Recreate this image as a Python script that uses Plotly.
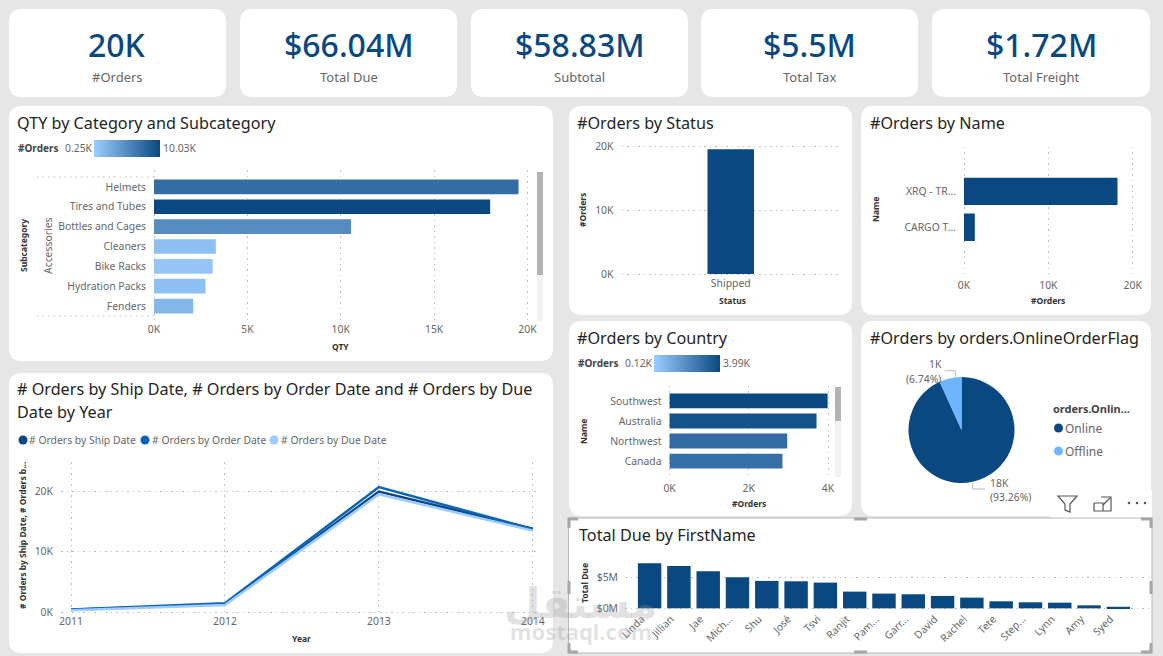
import plotly.graph_objects as go

W, H = 1163, 656
FONT = "Noto Sans"
NAVY = "#0A4881"
MID = "#0D63B5"
LIGHT = "#9CCBFF"
SKY = "#6DB6FF"
GRID = "#BDBDBD"
DOTS = "1.5px,4px"
TICK = "#666666"
TITLE = "#252423"
SCALE = [[0, "#9DCDFF"], [1, NAVY]]
TICK_SIZE = 10.4

# KPI cards
kpi_values = ["20K", "$66.04M", "$58.83M", "$5.5M", "$1.72M"]
kpi_names = ["#Orders", "Total Due", "Subtotal", "Total Tax", "Total Freight"]

# Quantity by subcategory
subcategories = ["Helmets", "Tires and Tubes", "Bottles and Cages", "Cleaners",
                 "Bike Racks", "Hydration Packs", "Fenders"]
subcategory_qty = [19520, 18000, 10550, 3310, 3140, 2760, 2100]
subcategory_orders = [7.3, 10.03, 5.1, 1.3, 0.85, 1.18, 1.9]

# Yearly orders by date role
years = [2011, 2012, 2013, 2014]
orders_ship = [420, 1350, 19950, 13800]
orders_order = [480, 1480, 20700, 13750]
orders_due = [330, 1200, 19500, 13500]

# Orders by status
statuses = ["Shipped"]
status_orders = [19600]

# Orders by shipping method
ship_names = ["XRQ - TR...", "CARGO T..."]
ship_orders = [18200, 1280]

# Orders by territory
countries = ["Southwest", "Australia", "Northwest", "Canada"]
country_orders = [3990, 3710, 2970, 2850]

# Online flag share
flag_names = ["Online", "Offline"]
flag_share = [93.26, 6.74]

# Total due by first name, in millions
first_names = ["Linda", "Jillian", "Jae", "Mich...", "Shu", "José", "Tsvi", "Ranjit",
               "Pam...", "Garr...", "David", "Rachel", "Tete", "Step...", "Lynn", "Amy", "Syed"]
first_name_due = [7.26, 6.83, 5.97, 5.0, 4.41, 4.35, 4.14, 2.69, 2.37, 2.26, 1.99, 1.72,
                  1.13, 0.97, 0.91, 0.48, 0.25]


def fx(x):
    return x / W


def fy(y):
    return 1 - y / H


shapes = []
annotations = []


def card(x0, y0, x1, y1, r=13, fill="white"):
    a, b, c, d = fx(x0), fy(y0), fx(x1), fy(y1)
    rx, ry = r / W, r / H
    path = (f"M {a+rx} {b} L {c-rx} {b} Q {c} {b} {c} {b-ry} L {c} {d+ry} Q {c} {d} {c-rx} {d} "
            f"L {a+rx} {d} Q {a} {d} {a} {d+ry} L {a} {b-ry} Q {a} {b} {a+rx} {b} Z")
    shapes.append(dict(type="path", xref="paper", yref="paper", path=path, fillcolor=fill,
                       line=dict(width=0), layer="below"))


def rect(x0, y0, x1, y1, fill=None, line=None, width=0, layer="below"):
    shapes.append(dict(type="rect", xref="paper", yref="paper", x0=fx(x0), x1=fx(x1),
                       y0=fy(y0), y1=fy(y1), fillcolor=fill or "rgba(0,0,0,0)",
                       line=dict(color=line or "rgba(0,0,0,0)", width=width), layer=layer))


def polyline(points, color, width=1, dash=None, closed=False):
    d = "M " + " L ".join(f"{fx(x)} {fy(y)}" for x, y in points) + (" Z" if closed else "")
    line = dict(color=color, width=width)
    if dash:
        line["dash"] = dash
    shapes.append(dict(type="path", xref="paper", yref="paper", path=d, line=line, layer="above"))


def dot(x, y, r, color):
    shapes.append(dict(type="circle", xref="paper", yref="paper", x0=fx(x - r), x1=fx(x + r),
                       y0=fy(y + r), y1=fy(y - r), fillcolor=color, line=dict(width=0), layer="above"))


def text(x, y, s, size=TICK_SIZE, color=TICK, anchor="left", weight=None, angle=0, family=FONT):
    font = dict(size=size, color=color, family=family)
    if weight:
        font["weight"] = weight
    annotations.append(dict(x=fx(x), y=fy(y), xref="paper", yref="paper", text=s, showarrow=False,
                            xanchor=anchor, yanchor="middle", font=font, textangle=angle,
                            borderpad=0, borderwidth=0))


def title(x, y, s):
    text(x, y, s, size=16.2, color=TITLE)


def axis_title(x, y, s, angle=0):
    text(x, y, s, size=8.5, color="#333333", anchor="center", weight=700, angle=angle)


def axis(x_or_y0, x_or_y1, size, **kw):
    base = dict(domain=[x_or_y0 / size, x_or_y1 / size], showline=False, zeroline=False, ticks="",
                tickfont=dict(size=TICK_SIZE, color=TICK, family=FONT), automargin=False,
                gridcolor=GRID, griddash=DOTS, gridwidth=1)
    base.update(kw)
    return base


def xdom(x0, x1, **kw):
    return axis(x0, x1, W, **kw)


def ydom(top, bottom, **kw):
    return axis(H - bottom, H - top, H, **kw)


def colorbar(x0, y0, length, thick):
    return dict(orientation="h", x=fx(x0), xanchor="left", y=fy(y0), yanchor="top",
                len=length, lenmode="pixels", thickness=thick, thicknessmode="pixels",
                outlinewidth=0, showticklabels=False, ticks="", xpad=0, ypad=0)


fig = go.Figure()

# Card backgrounds
kpi_boxes = [(9, 226), (240, 457), (471, 688), (701, 918), (932, 1150)]
for (x0, x1), value, name in zip(kpi_boxes, kpi_values, kpi_names):
    card(x0, 9, x1, 97)
    centre = (x0 + x1) / 2
    text(centre, 44, value, size=32, color=NAVY, anchor="center", weight=500)
    text(centre, 77, name, size=13, anchor="center")
card(9, 106, 553, 361)
card(9, 373, 553, 653)
card(569, 106, 852, 315)
card(861, 106, 1151, 315)
card(569, 321, 852, 516)
card(861, 321, 1151, 516)
rect(1050, 490, 1152, 518, fill="white")
rect(568.5, 518, 1152, 653, fill="white")

# Quantity by subcategory
fig.add_bar(x=subcategory_qty, y=subcategories, orientation="h", xaxis="x", yaxis="y",
            width=0.74,
            marker=dict(color=subcategory_orders, colorscale=SCALE, cmin=0.25, cmax=10.03,
                        line=dict(width=0), showscale=True, colorbar=colorbar(94, 140, 66, 17)))
title(17, 123, "QTY by Category and Subcategory")
text(18, 148, "#Orders", size=10, color="#444444", weight=700)
text(65, 148, "0.25K")
text(163, 148, "10.03K")
axis_title(23, 246, "Subcategory", -90)
text(48, 246, "Accessories", size=10.4, anchor="center", angle=-90)
axis_title(340, 346, "QTY")
polyline([(37, 177), (154, 177)], GRID, dash=DOTS)
polyline([(37, 316), (154, 316)], GRID, dash=DOTS)
rect(537, 172, 543, 321, fill="#F1F1F1", layer="above")
rect(537, 172, 543, 275, fill="#B3B3B3", layer="above")

# Yearly orders
for series, colour, name in ((orders_ship, NAVY, "Ship"), (orders_order, MID, "Order"), (orders_due, LIGHT, "Due")):
    fig.add_scatter(x=years, y=series, mode="lines", name=name, xaxis="x2", yaxis="y2",
                    line=dict(color=colour, width=2.5))
title(17, 389, "# Orders by Ship Date, # Orders by Order Date and # Orders by Due")
title(17, 412, "Date by Year")
for cx, tx, colour, label in ((23, 29, NAVY, "# Orders by Ship Date"),
                              (145, 152, MID, "# Orders by Order Date"),
                              (274, 281, LIGHT, "# Orders by Due Date")):
    dot(cx, 440, 4.5, colour)
    text(tx, 440, label)
axis_title(22, 536, "# Orders by Ship Date, # Orders b...", -90)
axis_title(301, 638, "Year")

# Orders by status
fig.add_bar(x=statuses, y=status_orders, xaxis="x3", yaxis="y3", width=0.213,
            marker=dict(color=NAVY, line=dict(width=0)))
title(577, 123, "#Orders by Status")
axis_title(583, 210, "#Orders", -90)
axis_title(732, 300, "Status")

# Orders by shipping method
fig.add_bar(x=ship_orders, y=ship_names, orientation="h", xaxis="x4", yaxis="y4", width=0.76,
            marker=dict(color=NAVY, line=dict(width=0)))
title(870, 123, "#Orders by Name")
axis_title(876, 210, "Name", -90)
axis_title(1048, 300, "#Orders")

# Orders by territory
fig.add_bar(x=country_orders, y=countries, orientation="h", xaxis="x5", yaxis="y5", width=0.74,
            marker=dict(color=[v / 1000 for v in country_orders], colorscale=SCALE, cmin=0.12, cmax=3.99,
                        line=dict(width=0), showscale=True, colorbar=colorbar(654, 355, 66, 17)))
title(577, 338, "#Orders by Country")
text(578, 363, "#Orders", size=10, color="#444444", weight=700)
text(625, 363, "0.12K")
text(723, 363, "3.99K")
axis_title(583, 432, "Name", -90)
axis_title(749, 503, "#Orders")
rect(835, 387, 841, 477, fill="#F1F1F1", layer="above")
rect(835, 387, 841, 421, fill="#B3B3B3", layer="above")

# Online flag share
fig.add_pie(labels=flag_names, values=flag_share, sort=False, direction="clockwise", rotation=0,
            textinfo="none", marker=dict(colors=[NAVY, SKY], line=dict(width=0)),
            domain=dict(x=[fx(908.5), fx(1014.5)], y=[fy(483), fy(377)]), showlegend=False)
title(870, 338, "#Orders by orders.OnlineOrderFlag")
text(935, 364, "1K", anchor="center")
text(923, 379, "(6.74%)", anchor="center")
text(989.5, 483, "18K")
text(989.5, 497, "(93.26%)")
polyline([(955.4, 376.7), (955.4, 370.7), (944.6, 370.7)], "#BBBBBB")
polyline([(972.7, 483), (972.7, 489), (985, 489)], "#BBBBBB")
text(1053, 408, "orders.Onlin...", size=11, color="#444444", weight=700)
dot(1058.5, 428, 4.5, NAVY)
text(1065, 428, "Online", size=12)
dot(1058.5, 451, 4.5, SKY)
text(1065, 451, "Offline", size=12)

# Visual header icons
polyline([(1058, 496), (1077, 496), (1070, 504), (1070, 512), (1065, 510), (1065, 504)], "#555555", 1.2, closed=True)
polyline([(1101, 497), (1111, 497), (1111, 511), (1094, 511), (1094, 503)], "#555555", 1.2)
polyline([(1094, 503), (1103, 503), (1103, 511)], "#555555", 1.2)
polyline([(1103, 505), (1110, 498)], "#555555", 1.2)
for cx in (1129, 1137, 1145):
    dot(cx, 503, 1.3, "#555555")

# Total due by first name
fig.add_bar(x=first_names, y=first_name_due, xaxis="x6", yaxis="y6", width=0.8,
            marker=dict(color=NAVY, line=dict(width=0)))
text(579, 535, "Total Due by FirstName", size=16.2, color=TITLE)
axis_title(584, 583, "Total Due", -90)

# Selection frame round the focused visual
rect(568.5, 518, 1152, 653, line="#B8B8B8", width=1, layer="above")
HANDLE = "#A6A6A6"
for pts in ([(569, 528), (569, 519), (578, 519)], [(1141, 519), (1151, 519), (1151, 528)],
            [(569, 643), (569, 652), (578, 652)], [(1141, 652), (1151, 652), (1151, 643)],
            [(854, 519), (867, 519)], [(854, 652), (867, 652)],
            [(569, 581), (569, 594)], [(1151, 581), (1151, 594)]):
    polyline(pts, HANDLE, 3)

# Site watermark
text(581, 603, "مستقل", size=42, color="rgba(150,150,150,0.28)", anchor="center", weight=700, family="DejaVu Sans")
text(581, 631, "mostaql.com", size=22, color="rgba(150,150,150,0.28)", anchor="center", weight=700)

# Each numeric range overshoots its domain slightly so the gridlines at the limits stay drawn
fig.update_layout(
    width=W, height=H, autosize=False, margin=dict(l=0, r=0, t=0, b=0),
    paper_bgcolor="#E6E6E6", plot_bgcolor="rgba(0,0,0,0)", showlegend=False,
    shapes=shapes, annotations=annotations, barmode="overlay",
    xaxis=xdom(152, 530, range=[-107, 20134], tickvals=[0, 5000, 10000, 15000, 20000],
               ticktext=["0K", "5K", "10K", "15K", "20K"], showgrid=True, anchor="y",
               ticklabelstandoff=2),
    yaxis=ydom(170, 320, type="category", autorange=False, range=[6.7, -0.85], showgrid=False,
               anchor="x", ticklabelstandoff=5),
    xaxis2=xdom(61, 539, range=[2010.935, 2014.04], tickvals=years, ticktext=[str(y) for y in years],
                showgrid=True, anchor="y2"),
    yaxis2=ydom(462, 614, range=[-281, 24840], tickvals=[0, 10000, 20000], ticktext=["0K", "10K", "20K"],
                showgrid=True, anchor="x2", ticklabelstandoff=7),
    xaxis3=xdom(621.5, 840, type="category", range=[-0.5, 0.5], showgrid=False, anchor="y3"),
    yaxis3=ydom(144.7, 276, range=[-314, 20314], tickvals=[0, 10000, 20000], ticktext=["0K", "10K", "20K"],
                showgrid=True, anchor="x3", ticklabelstandoff=7),
    xaxis4=xdom(962, 1135, range=[-237, 20273], tickvals=[0, 10000, 20000], ticktext=["0K", "10K", "20K"],
                showgrid=True, anchor="y4", ticklabelstandoff=4),
    yaxis4=ydom(146.7, 274, type="category", autorange=False, range=[2.3, -1.24], showgrid=False,
                anchor="x4", ticklabelstandoff=5),
    xaxis5=xdom(667.6, 830, range=[-50.5, 4050], tickvals=[0, 2000, 4000], ticktext=["0K", "2K", "4K"],
                showgrid=True, anchor="y5", ticklabelstandoff=4),
    yaxis5=ydom(385.7, 476.7, type="category", autorange=False, range=[3.78, -0.76], showgrid=False,
                anchor="x5", ticklabelstandoff=5),
    xaxis6=xdom(625, 1150, type="category", range=[-0.84, 17.08], showgrid=False, anchor="y6",
                tickangle=-45, ticklabelshift=-8),
    yaxis6=ydom(558, 610, range=[-0.27, 8.1], tickvals=[0, 5], ticktext=["$0M", "$5M"], showgrid=True,
                anchor="x6", ticklabelstandoff=6),
)

fig.write_html("out.html")
